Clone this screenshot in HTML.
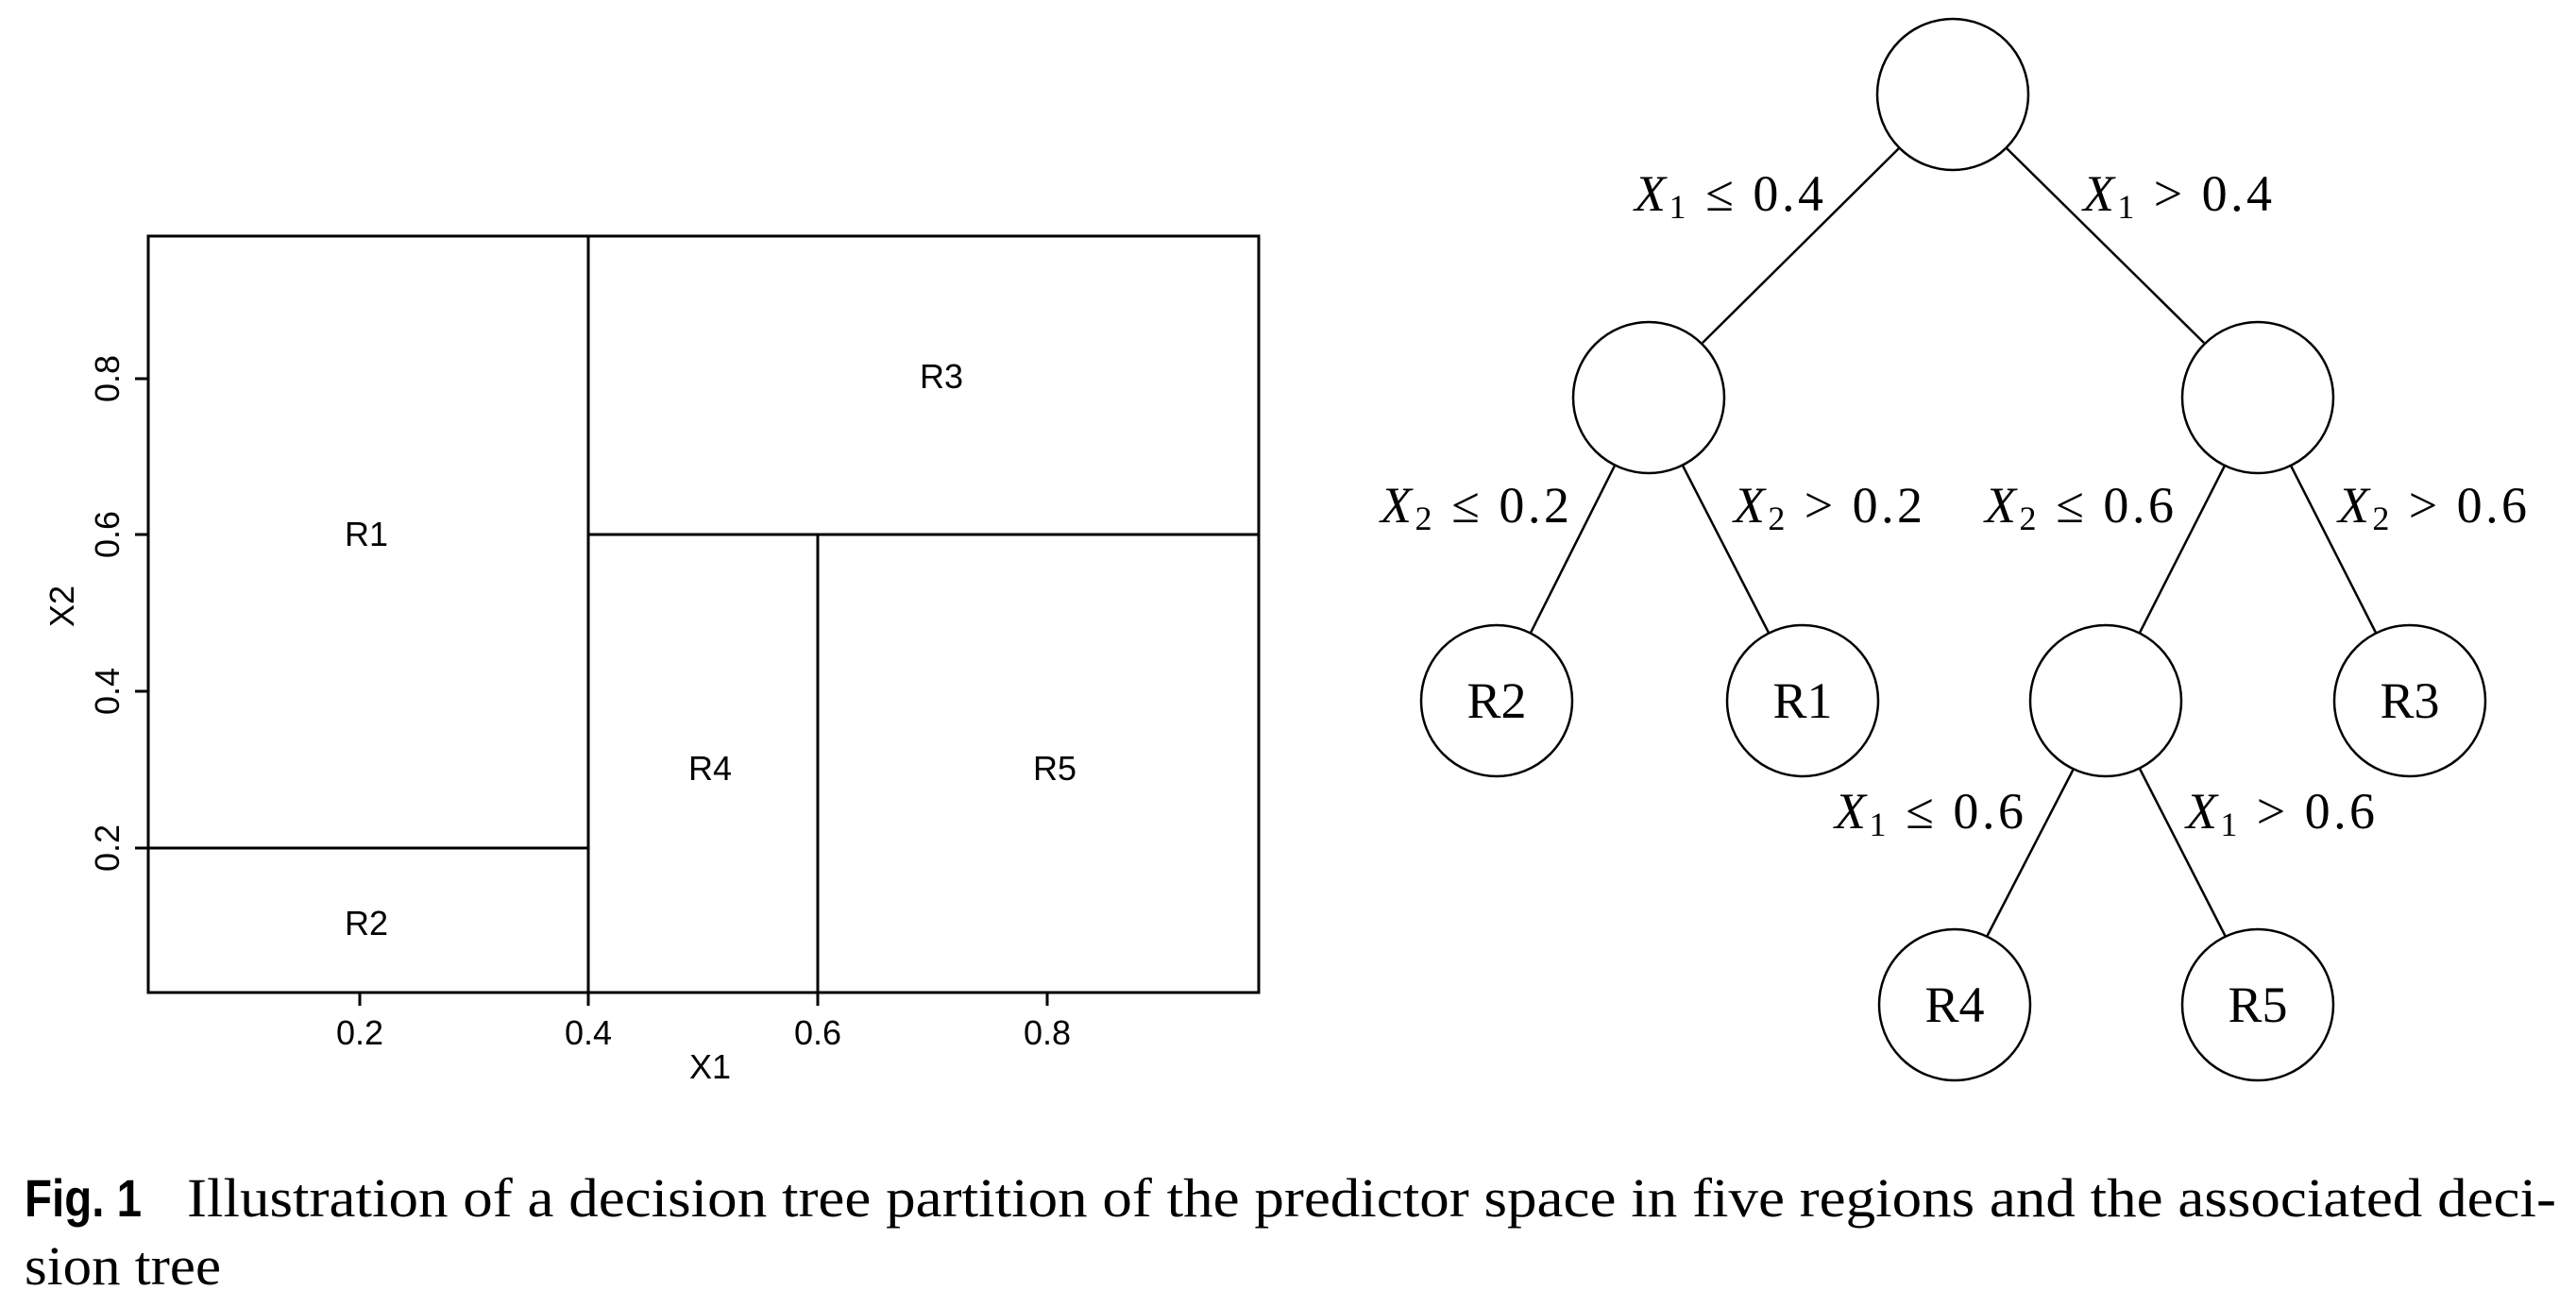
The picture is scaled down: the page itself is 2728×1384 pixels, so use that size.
<!DOCTYPE html>
<html><head><meta charset="utf-8"><style>
html,body{margin:0;padding:0;background:#fff;}
svg{display:block;}
.ax{font-family:"Liberation Sans",sans-serif;font-size:36px;}
.m{font-family:"Liberation Serif",serif;font-size:54px;}
.n{font-family:"Liberation Serif",serif;font-size:54px;}
</style></head><body>
<svg width="2728" height="1384" viewBox="0 0 2728 1384" xmlns="http://www.w3.org/2000/svg">
<g stroke="#000" stroke-width="3" fill="none">
<rect x="157" y="250" width="1176" height="801"/>
<line x1="623" y1="250" x2="623" y2="1051"/>
<line x1="623" y1="566" x2="1333" y2="566"/>
<line x1="866" y1="566" x2="866" y2="1051"/>
<line x1="157" y1="898" x2="623" y2="898"/>
<line x1="381" y1="1051" x2="381" y2="1065"/>
<line x1="623" y1="1051" x2="623" y2="1065"/>
<line x1="866" y1="1051" x2="866" y2="1065"/>
<line x1="1109" y1="1051" x2="1109" y2="1065"/>
<line x1="143" y1="401" x2="157" y2="401"/>
<line x1="143" y1="566" x2="157" y2="566"/>
<line x1="143" y1="732" x2="157" y2="732"/>
<line x1="143" y1="898" x2="157" y2="898"/>
</g>
<g class="ax" text-anchor="middle">
<text x="388" y="578">R1</text>
<text x="997" y="411">R3</text>
<text x="752" y="826">R4</text>
<text x="1117" y="826">R5</text>
<text x="388" y="990">R2</text>
<text x="381" y="1106">0.2</text>
<text x="623" y="1106">0.4</text>
<text x="866" y="1106">0.6</text>
<text x="1109" y="1106">0.8</text>
<text x="752" y="1142">X1</text>
<text transform="translate(126,401) rotate(-90)">0.8</text>
<text transform="translate(126,566) rotate(-90)">0.6</text>
<text transform="translate(126,732) rotate(-90)">0.4</text>
<text transform="translate(126,898) rotate(-90)">0.2</text>
<text transform="translate(78,642) rotate(-90)">X2</text>
</g>
<g transform="translate(-10,0)">
<g stroke="#000" stroke-width="2.5" fill="none">
<line x1="2021" y1="157" x2="1813" y2="363"/>
<line x1="2135" y1="157" x2="2344" y2="363"/>
<line x1="1720" y1="493" x2="1631" y2="670"/>
<line x1="1792" y1="493" x2="1883" y2="670"/>
<line x1="2366" y1="493" x2="2276" y2="670"/>
<line x1="2436" y1="493" x2="2526" y2="670"/>
<line x1="2206" y1="814" x2="2114" y2="992"/>
<line x1="2276" y1="814" x2="2367" y2="992"/>
<circle cx="2078" cy="100" r="80" fill="#fff"/>
<circle cx="1756" cy="421" r="80" fill="#fff"/>
<circle cx="2401" cy="421" r="80" fill="#fff"/>
<circle cx="1595" cy="742" r="80" fill="#fff"/>
<circle cx="1919" cy="742" r="80" fill="#fff"/>
<circle cx="2240" cy="742" r="80" fill="#fff"/>
<circle cx="2562" cy="742" r="80" fill="#fff"/>
<circle cx="2080" cy="1064" r="80" fill="#fff"/>
<circle cx="2401" cy="1064" r="80" fill="#fff"/>
</g>
<g class="n" text-anchor="middle">
<text x="1595" y="760">R2</text>
<text x="1919" y="760">R1</text>
<text x="2562" y="760">R3</text>
<text x="2080" y="1082">R4</text>
<text x="2401" y="1082">R5</text>
</g>
</g>
<g class="m" xml:space="preserve">
<text x="1731" y="223" textLength="200" lengthAdjust="spacing"><tspan font-style="italic">X</tspan><tspan font-size="36" dy="8">1</tspan><tspan dy="-8">  ≤  0.4</tspan></text>
<text x="2206" y="223" textLength="200" lengthAdjust="spacing"><tspan font-style="italic">X</tspan><tspan font-size="36" dy="8">1</tspan><tspan dy="-8">  &gt;  0.4</tspan></text>
<text x="1462" y="553" textLength="200" lengthAdjust="spacing"><tspan font-style="italic">X</tspan><tspan font-size="36" dy="8">2</tspan><tspan dy="-8">  ≤  0.2</tspan></text>
<text x="1836" y="553" textLength="200" lengthAdjust="spacing"><tspan font-style="italic">X</tspan><tspan font-size="36" dy="8">2</tspan><tspan dy="-8">  &gt;  0.2</tspan></text>
<text x="2102" y="553" textLength="200" lengthAdjust="spacing"><tspan font-style="italic">X</tspan><tspan font-size="36" dy="8">2</tspan><tspan dy="-8">  ≤  0.6</tspan></text>
<text x="2476" y="553" textLength="200" lengthAdjust="spacing"><tspan font-style="italic">X</tspan><tspan font-size="36" dy="8">2</tspan><tspan dy="-8">  &gt;  0.6</tspan></text>
<text x="1943" y="877" textLength="200" lengthAdjust="spacing"><tspan font-style="italic">X</tspan><tspan font-size="36" dy="8">1</tspan><tspan dy="-8">  ≤  0.6</tspan></text>
<text x="2315" y="877" textLength="200" lengthAdjust="spacing"><tspan font-style="italic">X</tspan><tspan font-size="36" dy="8">1</tspan><tspan dy="-8">  &gt;  0.6</tspan></text>
</g>
<text x="26" y="1288" font-family="Liberation Sans Narrow, Liberation Sans, sans-serif" font-weight="bold" font-size="56" textLength="124" lengthAdjust="spacingAndGlyphs">Fig. 1</text>
<text x="198" y="1288" font-family="Liberation Serif, serif" font-size="58" textLength="2509" lengthAdjust="spacingAndGlyphs">Illustration of a decision tree partition of the predictor space in five regions and the associated deci-</text>
<text x="26" y="1360" font-family="Liberation Serif, serif" font-size="58" textLength="208" lengthAdjust="spacingAndGlyphs">sion tree</text>
</svg>
</body></html>
